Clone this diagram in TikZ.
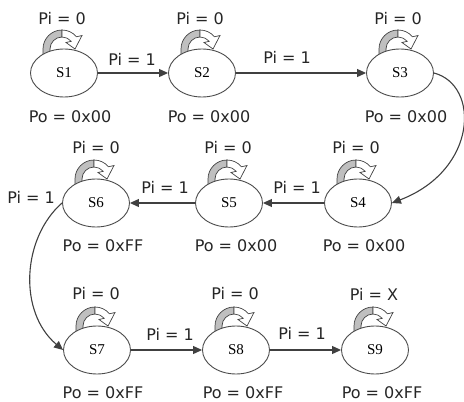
\documentclass[tikz,border=0pt]{standalone}
\usepackage{fontspec}
\setmainfont{DejaVu Sans}
\newfontfamily\statefont{Liberation Serif}
\usetikzlibrary{shapes.geometric,arrows.meta}
\begin{document}
\begin{tikzpicture}[x=1pt,y=-1pt,
  state/.style={ellipse, draw=black!70, line width=0.9pt, fill=white,
    minimum width=67pt, minimum height=48pt, inner sep=0pt,
    font=\statefont\fontsize{15}{15}\selectfont},
  lbl/.style={inner sep=0pt, font=\fontsize{16}{16}\selectfont, text=black!85},
  arr/.style={draw=black!75, line width=1.1pt, -{Triangle[length=9pt,width=8pt]}},
  selfloop/.pic={
    % shaded rising half of the curved arrow
    \filldraw[fill=black!25, draw=black!75, line width=0.7pt]
      (-19pt,-8pt) -- (-19pt,0pt) arc[start angle=180,end angle=90,radius=19pt]
      -- (0pt,12pt) arc[start angle=90,end angle=180,radius=12pt]
      -- (-12pt,-8pt) -- cycle;
    % white falling half with its open head
    \filldraw[fill=white, draw=black!75, line width=0.7pt]
      (0pt,19pt) arc[start angle=90,end angle=40,radius=19pt]
      -- (20pt,13.5pt) -- (13pt,0pt) -- (4pt,6.5pt) -- (40:12pt)
      arc[start angle=40,end angle=90,radius=12pt] -- cycle;
  }
]
\useasboundingbox (0,0) rectangle (464,402);

% self loops (drawn first, the states cover their feet)
\pic at (62,49) {selfloop};
\pic at (200,49) {selfloop};
\pic at (398,49) {selfloop};
\pic at (356,179) {selfloop};
\pic at (227,179) {selfloop};
\pic at (94,179) {selfloop};
\pic at (95,326) {selfloop};
\pic at (234,326) {selfloop};
\pic at (373,326) {selfloop};

% states
\node[state] (s1) at (64,73) {S1};
\node[state] (s2) at (202,73) {S2};
\node[state] (s3) at (400,73) {S3};
\node[state] (s4) at (358,203) {S4};
\node[state] (s5) at (229,203) {S5};
\node[state] (s6) at (96,203) {S6};
\node[state] (s7) at (97,350) {S7};
\node[state] (s8) at (236,350) {S8};
\node[state] (s9) at (375,350) {S9};

% transitions
\draw[arr] (s1) -- (s2);
\draw[arr] (s2) -- (s3);
\draw[arr] (s3.east) .. controls (480,85) and (478,170) .. (s4.east);
\draw[arr] (s4) -- (s5);
\draw[arr] (s5) -- (s6);
\draw[arr] (s6.west) .. controls (22,238) and (18,312) .. (s7.west);
\draw[arr] (s7) -- (s8);
\draw[arr] (s8) -- (s9);

% loop inputs
\node[lbl] (i1) at (62,19) {Pi = 0};
\node[lbl] (i2) at (200,19) {Pi = 0};
\node[lbl] (i3) at (398,19) {Pi = 0};
\node[lbl] (i4) at (356,148) {Pi = 0};
\node[lbl] (i5) at (228,148) {Pi = 0};
\node[lbl] (i6) at (96,148) {Pi = 0};
\node[lbl] (i7) at (96,294) {Pi = 0};
\node[lbl] (i8) at (235,294) {Pi = 0};
\node[lbl] (i9) at (374,294) {Pi = X};

% outputs
\node[lbl] (o1) at (70,117) {Po = 0x00};
\node[lbl] (o2) at (209,117) {Po = 0x00};
\node[lbl] (o3) at (406,117) {Po = 0x00};
\node[lbl] (o4) at (364,246) {Po = 0x00};
\node[lbl] (o5) at (236,246) {Po = 0x00};
\node[lbl] (o6) at (103,246) {Po = 0xFF};
\node[lbl] (o7) at (103,393) {Po = 0xFF};
\node[lbl] (o8) at (243,393) {Po = 0xFF};
\node[lbl] (o9) at (382,393) {Po = 0xFF};

% transition inputs
\node[lbl] (t12) at (132,59) {Pi = 1};
\node[lbl] (t23) at (287,57) {Pi = 1};
\node[lbl] (t45) at (297,187) {Pi = 1};
\node[lbl] (t56) at (165,187) {Pi = 1};
\node[lbl] (t67) at (31,197) {Pi = 1};
\node[lbl] (t78) at (170,334) {Pi = 1};
\node[lbl] (t89) at (302,333) {Pi = 1};
\end{tikzpicture}
\end{document}
